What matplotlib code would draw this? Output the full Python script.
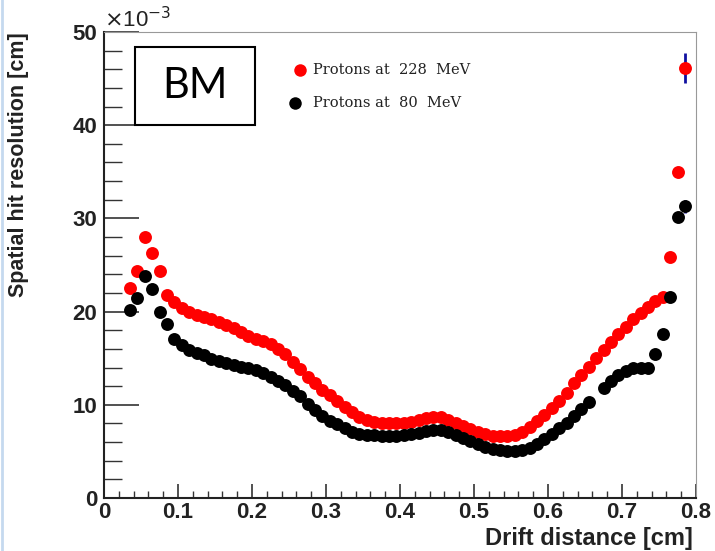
import matplotlib.pyplot as plt
import numpy as np
from matplotlib.ticker import MultipleLocator
from matplotlib.patches import Rectangle
from matplotlib.lines import Line2D

# Drift distance bin centres [cm]
drift = np.arange(0.035, 0.79, 0.01)

# Spatial hit resolution in units of 1e-3 cm
res_228 = [22.5, 24.4, 28.0, 26.3, 24.4, 21.8, 21.0, 20.4, 20.0, 19.6,
           19.4, 19.2, 18.9, 18.6, 18.2, 17.8, 17.4, 17.1, 16.8, 16.5,
           16.0, 15.4, 14.6, 13.8, 13.0, 12.3, 11.6, 11.0, 10.4, 9.8,
           9.2, 8.7, 8.4, 8.2, 8.0, 8.0, 8.0, 8.1, 8.2, 8.4,
           8.6, 8.7, 8.7, 8.4, 8.1, 7.7, 7.4, 7.1, 6.9, 6.7,
           6.6, 6.6, 6.8, 7.1, 7.6, 8.3, 8.9, 9.7, 10.4, 11.3,
           12.3, 13.2, 14.1, 15.0, 15.9, 16.7, 17.6, 18.4, 19.2, 19.9,
           20.5, 21.1, 21.6, 25.9, 35.0, 46.1]

res_80 = [20.2, 21.5, 23.8, 22.4, 20.0, 18.7, 17.1, 16.4, 15.9, 15.6,
          15.3, 14.9, 14.7, 14.5, 14.3, 14.1, 13.9, 13.7, 13.4, 13.0,
          12.5, 12.1, 11.5, 10.9, 10.1, 9.4, 8.8, 8.3, 7.9, 7.5,
          7.1, 6.9, 6.8, 6.8, 6.7, 6.6, 6.7, 6.8, 6.9, 7.0,
          7.2, 7.3, 7.3, 7.1, 6.8, 6.4, 6.1, 5.8, 5.5, 5.3,
          5.1, 5.0, 5.0, 5.1, 5.4, 5.8, 6.3, 6.9, 7.5, 8.1,
          8.8, 9.5, 10.3, np.nan, 11.8, 12.6, 13.2, 13.6, 13.9, 14.0,
          13.9, 15.4, 17.6, 21.6, 30.1, 31.3]

# Errors shown on the last bin of each sample
err_228_last = 1.6
err_80_last = 0.7

fig = plt.figure(figsize=(7.15, 5.51), dpi=100)
ax = fig.add_axes([0.1455, 0.0962, 0.828, 0.8457])

# error bars on the outermost bin
ax.errorbar(drift[-1], res_228[-1], yerr=err_228_last, fmt="none",
            ecolor="#1010a0", elinewidth=2, zorder=2)
ax.errorbar(drift[-1], res_80[-1], yerr=err_80_last, fmt="none",
            ecolor="#1010a0", elinewidth=2, zorder=2)

ax.plot(drift, res_228, "o", color="red", markersize=9.3,
        markeredgewidth=0, zorder=3)
ax.plot(drift, res_80, "o", color="black", markersize=9.3,
        markeredgewidth=0, zorder=4)

ax.set_xlim(0, 0.8)
ax.set_ylim(0, 50)

ax.xaxis.set_minor_locator(MultipleLocator(0.02))
ax.yaxis.set_minor_locator(MultipleLocator(2))
ax.set_xticks([0, 0.1, 0.2, 0.3, 0.4, 0.5, 0.6, 0.7, 0.8])
ax.set_xticklabels(["0", "0.1", "0.2", "0.3", "0.4", "0.5", "0.6", "0.7", "0.8"])
ax.set_yticks([0, 10, 20, 30, 40, 50])
ax.set_yticklabels(["0", "10", "20", "30", "40", "50"])

ax.tick_params(axis="both", which="both", direction="in", top=False, right=False,
               colors="#333333", labelcolor="#222222")
ax.tick_params(axis="y", which="major", length=25, width=1.2, pad=5)
ax.tick_params(axis="y", which="minor", length=13, width=1.0)
ax.tick_params(axis="x", which="major", length=10, width=1.2, pad=3)
ax.tick_params(axis="x", which="minor", length=5, width=1.0)
for lab in ax.get_xticklabels() + ax.get_yticklabels():
    lab.set_fontfamily("Liberation Sans")
    lab.set_fontweight("bold")
    lab.set_fontsize(16)

ax.spines["left"].set_color("#222222")
ax.spines["bottom"].set_color("#222222")
ax.spines["left"].set_linewidth(1.5)
ax.spines["bottom"].set_linewidth(1.5)
ax.spines["top"].set_color("#999999")
ax.spines["right"].set_color("#999999")

ax.set_xlabel("Drift distance [cm]", fontfamily="Liberation Sans",
              fontweight="bold", fontsize=17, color="#222222")
ax.xaxis.set_label_coords(0.995, -0.062)
ax.xaxis.label.set_horizontalalignment("right")
ax.set_ylabel("Spatial hit resolution [cm]", fontfamily="Liberation Sans",
              fontweight="bold", fontsize=15.5, color="#222222")
ax.yaxis.set_label_coords(-0.126, 1.0)
ax.yaxis.label.set_horizontalalignment("right")

ax.text(0.0, 1.0, r"$\times$10$^{-3}$", transform=ax.transAxes,
        fontfamily="Liberation Sans", fontsize=16, color="#222222",
        ha="left", va="bottom")

# detector label box
ax.add_patch(Rectangle((135 / 715, 1 - 125 / 551), 120 / 715, 78 / 551,
                       transform=fig.transFigure, fill=False,
                       edgecolor="black", linewidth=1.5, zorder=5))
fig.text(195 / 715, 1 - 86 / 551, "BM", fontfamily="Lato", fontsize=30,
         ha="center", va="center", color="black")

# legend
ax.plot([0.2645], [45.9], "o", color="red", markersize=9, markeredgewidth=0)
ax.plot([0.258], [42.4], "o", color="black", markersize=9, markeredgewidth=0)
ax.text(0.283, 45.9, "Protons at  228  MeV", fontfamily="DejaVu Serif",
        fontsize=10.5, va="center", ha="left", color="#222222")
ax.text(0.283, 42.4, "Protons at  80  MeV", fontfamily="DejaVu Serif",
        fontsize=10.5, va="center", ha="left", color="#222222")

# thin blue strip along the left edge
fig.add_artist(Line2D([2 / 715, 2 / 715], [0, 1], transform=fig.transFigure,
                      color="#c5d9ef", linewidth=2))

fig.savefig("out.png", dpi=100, facecolor="white")
